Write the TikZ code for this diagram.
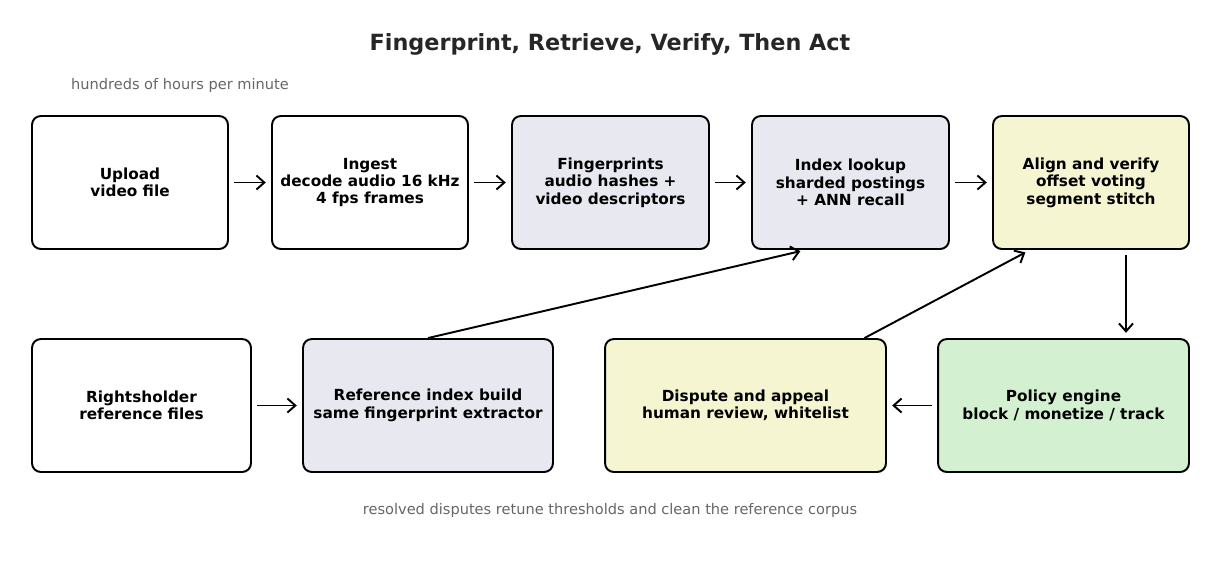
\documentclass[tikz,border=0pt]{standalone}
\usepackage{fontspec}
\setmainfont{DejaVu Sans}
\usetikzlibrary{arrows.meta,positioning}
\definecolor{lav}{HTML}{E8E8F0}
\definecolor{pale}{HTML}{F5F5D2}
\definecolor{mint}{HTML}{D3F0D1}
\definecolor{note}{HTML}{666666}

\tikzset{
  stage/.style={draw=black, line width=1.1pt, rounded corners=5pt, minimum height=2.66cm,
    align=center, font=\fontsize{8.7}{9.9}\selectfont\bfseries, inner sep=2pt},
  flow/.style={-{Straight Barb[length=4.5pt,width=8pt]}, line width=1.1pt, shorten >=3pt, shorten <=3pt},
  remark/.style={text=note, font=\fontsize{8.3}{10}\selectfont}
}

\begin{document}
\begin{tikzpicture}[x=0.02cm,y=-0.02cm]
	\useasboundingbox (0,0) rectangle (1221,566);
	\node[font=\fontsize{12.7}{14}\selectfont\bfseries, text=black!85] (title) at (610,44) {Fingerprint, Retrieve, Verify, Then Act};
	\node[remark] (rate) at (180,85) {hundreds of hours per minute};
	\node[remark] (loop) at (610,510) {resolved disputes retune thresholds and clean the reference corpus};

	% top row
	\node[stage, fill=white, minimum width=3.92cm] (upload) at (130,182.5) {Upload\\video file};
	\node[stage, fill=white, minimum width=3.92cm] (ingest) at (370,182.5) {Ingest\\decode audio 16 kHz\\4 fps frames};
	\node[stage, fill=lav, minimum width=3.94cm] (fp) at (610.5,182.5) {Fingerprints\\audio hashes +\\video descriptors};
	\node[stage, fill=lav, minimum width=3.94cm] (lookup) at (850.5,182.5) {Index lookup\\sharded postings\\+ ANN recall};
	\node[stage, fill=pale, minimum width=3.92cm] (align) at (1091,182.5) {Align and verify\\offset voting\\segment stitch};

	% bottom row
	\node[stage, fill=white, minimum width=4.38cm] (holders) at (141.5,405.5) {Rightsholder\\reference files};
	\node[stage, fill=lav, minimum width=5.0cm] (refidx) at (428,405.5) {Reference index build\\same fingerprint extractor};
	\node[stage, fill=pale, minimum width=5.62cm] (dispute) at (745.5,405.5) {Dispute and appeal\\human review, whitelist};
	\node[stage, fill=mint, minimum width=5.02cm] (policy) at (1063.5,405.5) {Policy engine\\block / monetize / track};

	\draw[flow] (upload) -- (ingest);
	\draw[flow] (ingest) -- (fp);
	\draw[flow] (fp) -- (lookup);
	\draw[flow] (lookup) -- (align);
	\draw[flow] ([xshift=0.7cm]align.south) -- ([xshift=1.25cm]policy.north);
	\draw[flow] (policy) -- (dispute);
	\draw[flow] (holders) -- (refidx);
	\draw[flow, shorten <=0pt] (refidx.north) -- ([xshift=-0.9cm]lookup.south);
	\draw[flow, shorten <=0pt] ([xshift=2.38cm]dispute.north) -- ([xshift=-1.22cm]align.south);
\end{tikzpicture}
\end{document}
